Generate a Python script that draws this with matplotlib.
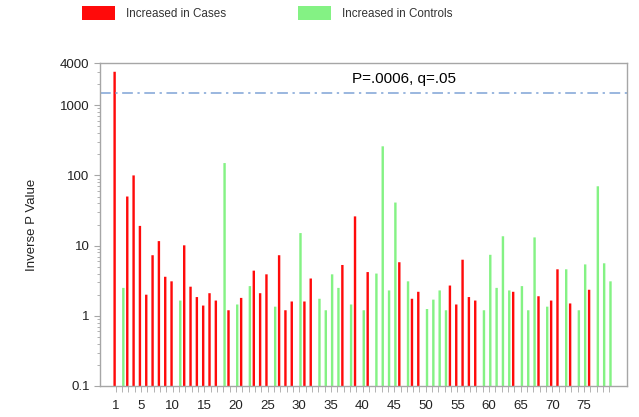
import numpy as np
import matplotlib
matplotlib.use('Agg')
import matplotlib.pyplot as plt
from matplotlib.patches import Patch
from matplotlib.ticker import FixedLocator, FixedFormatter, LogLocator, NullFormatter

plt.rcParams['font.family'] = ['Liberation Sans', 'DejaVu Sans']

# inverse p value per marker, 1..79
inv_p = [3000, 2.4, 50, 100, 19, 1.9, 7.2, 11.5, 3.5, 3.0,
         1.55, 10, 2.5, 1.75, 1.3, 2.0, 1.55, 150, 1.1, 1.35,
         1.7, 2.55, 4.3, 2.0, 3.8, 1.25, 7.2, 1.1, 1.5, 15,
         1.5, 3.3, 1.65, 1.1, 3.8, 2.4, 5.2, 1.35, 26, 1.1,
         4.1, 3.9, 260, 2.2, 41, 5.7, 3.0, 1.65, 2.1, 1.15,
         1.6, 2.2, 1.1, 2.6, 1.35, 6.2, 1.75, 1.55, 1.1, 7.3,
         2.4, 13.5, 2.2, 2.1, 2.55, 1.1, 13, 1.8, 1.25, 1.55,
         4.5, 4.5, 1.4, 1.1, 5.3, 2.25, 70, 5.5, 3.0]
# 'r' = increased in cases, 'g' = increased in controls
direction = list('rgrrrrrrrr'
                 'grrrrrrgrg'
                 'rgrrrgrrrg'
                 'rrggggrgrg'
                 'rggggrgrrg'
                 'gggrrrrrgg'
                 'gggrgggrgr'
                 'rgrggrggg')
threshold = 1500
threshold_label = 'P=.0006, q=.05'
xtick_labels = [1] + list(range(5, 80, 5))

idx = np.arange(1, len(inv_p) + 1)
vals = np.array(inv_p, dtype=float)
is_case = np.array([d == 'r' for d in direction])

red = '#FF0A0A'
green = '#84F284'
grey = '#A6A6A6'
w = 0.38

fig = plt.figure(figsize=(6.39, 4.17), dpi=100)
ax = fig.add_axes([100 / 639, 1 - 386 / 417, 527 / 639, 323 / 417])
ax.set_yscale('log')

ax.bar(idx[is_case] - w / 2, vals[is_case], width=w, color=red, bottom=0.1, snap=False)
ax.bar(idx[~is_case] + w / 2, vals[~is_case], width=w, color=green, bottom=0.1, snap=False)

ax.axhline(threshold, color='#7FA3D6', linestyle='-.', linewidth=1.1, dashes=(7, 3, 1.5, 3))
ax.text(0.676, 0.95, threshold_label, transform=ax.transAxes, ha='right', va='center',
        fontsize=11, color='black')

ax.set_ylim(0.1, 4000)
ax.set_xlim(-1.5, 81.8)

yt = [0.1, 1, 10, 100, 1000, 4000]
ax.yaxis.set_major_locator(FixedLocator(yt))
ax.yaxis.set_major_formatter(FixedFormatter(['0.1', '1', '10', '100', '1000', '4000']))
ax.yaxis.set_minor_locator(LogLocator(base=10, subs=np.arange(2, 10)))
ax.yaxis.set_minor_formatter(NullFormatter())

ax.set_xticks(idx)
ax.set_xticklabels([str(i) if i in xtick_labels else '' for i in idx])

ax.tick_params(axis='both', which='both', direction='out', color=grey, labelsize=9.5,
               labelcolor='#222222')
ax.tick_params(axis='y', which='major', length=4, width=0.8)
ax.tick_params(axis='y', which='minor', length=2.5, width=0.6)
ax.tick_params(axis='x', length=4, width=0.6, pad=6)
for s in ax.spines.values():
    s.set_color(grey)
    s.set_linewidth(1)

ax.set_ylabel('Inverse P Value', fontsize=9.5, color='#222222', labelpad=16)

handles = [Patch(facecolor=red, edgecolor='none', label='Increased in Cases'),
           Patch(facecolor=green, edgecolor='none', label='Increased in Controls')]
fig.legend(handles=handles, loc='upper left', bbox_to_anchor=(82 / 639, 1 - 6 / 417),
           ncol=2, frameon=False, fontsize=8.4, borderpad=0, borderaxespad=0,
           handlelength=2.83, handleheight=1.46, handletextpad=0.94, columnspacing=6.2,
           labelcolor='#333333')

fig.savefig('out.png', dpi=100)
